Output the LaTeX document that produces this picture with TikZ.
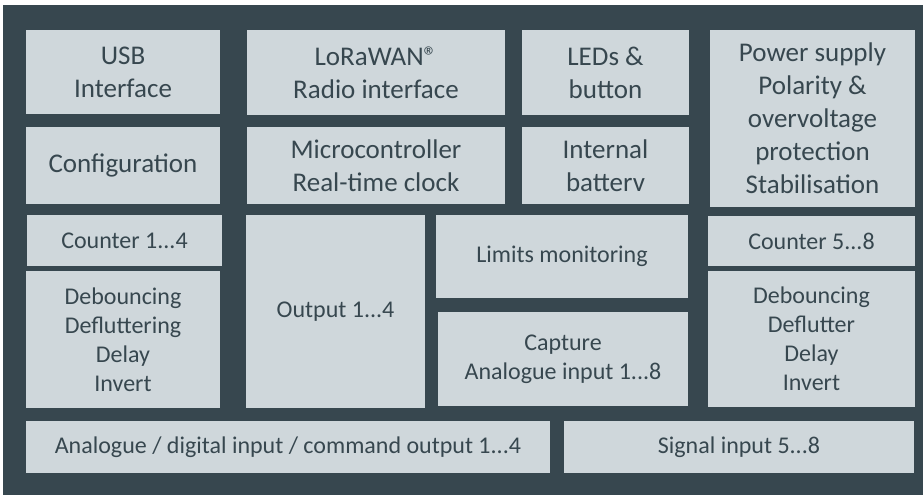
\documentclass[tikz,border=0pt]{standalone}
\usepackage{fontspec}
\setmainfont{Carlito}
\usepackage{tikz}
\definecolor{slateBg}{RGB}{55, 71, 79}
\definecolor{boxGrey}{RGB}{207, 215, 219}
\definecolor{txtSlate}{RGB}{55, 71, 79}

\tikzset{
  blk/.style 2 args={draw=none, fill=boxGrey, text=txtSlate, align=center,
    inner sep=0pt, minimum width=#1pt, minimum height=#2pt},
  bigtxt/.style={font=\fontsize{27}{33}\selectfont},
  smalltxt/.style={font=\fontsize{24}{29}\selectfont}
}

\begin{document}
\begin{tikzpicture}[x=1pt, y=-1pt]
    \useasboundingbox (0,0) rectangle (923,495);
    \fill[slateBg] (3,5) rectangle (923,495);
    % top rows
    \node[blk={194}{84}, bigtxt] (usb) at (123,72) {USB\\Interface};
    \node[blk={258}{85}, bigtxt] (lora) at (376,72.5) {LoRaWAN®\\Radio interface};
    \node[blk={167}{85}, bigtxt] (leds) at (605.5,72.5) {LEDs \&\\button};
    \node[blk={205}{177}, bigtxt] (power) at (812.5,118.5) {Power supply\\Polarity \&\\overvoltage\\protection\\Stabilisation};
    \node[blk={194}{77}, bigtxt] (config) at (123,165.5) {Configuration};
    \node[blk={258}{77}, bigtxt] (mcu) at (376,165.5) {Microcontroller\\Real-time clock};
    \node[blk={167}{77}, bigtxt] (batt) at (605.5,165.5) {Internal\\batterv};
    % inputs and outputs
    \node[blk={195}{51}, smalltxt] (cnt1) at (124.5,240.5) {Counter 1...4};
    \node[blk={194}{137}, smalltxt] (deb1) at (123,339.5) {Debouncing\\Defluttering\\Delay\\Invert};
    \node[blk={179}{193}, smalltxt] (out) at (335.5,311.5) {Output 1...4};
    \node[blk={252}{83}, smalltxt] (limits) at (562,256.5) {Limits monitoring};
    \node[blk={250}{94}, smalltxt] (capture) at (563,359) {Capture\\Analogue input 1...8};
    \node[blk={207}{50}, smalltxt] (cnt2) at (811.5,241) {Counter 5...8};
    \node[blk={207}{136}, smalltxt] (deb2) at (811.5,339) {Debouncing\\Deflutter\\Delay\\Invert};
    \node[blk={524}{52}, smalltxt] (ana) at (288,447) {Analogue / digital input / command output 1...4};
    \node[blk={350}{52}, smalltxt] (sig) at (739,447) {Signal input 5...8};
\end{tikzpicture}
\end{document}
